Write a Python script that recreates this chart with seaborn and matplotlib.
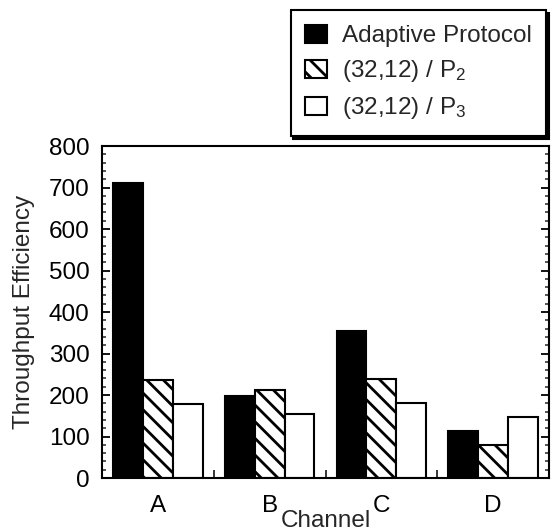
import pandas as pd
import seaborn as sns
import matplotlib.pyplot as plt
from matplotlib.ticker import MultipleLocator

channels = ['A', 'B', 'C', 'D']
adaptive = [712, 197, 355, 113]
p2 = [236, 211, 239, 80]
p3 = [178, 155, 181, 147]
series = ['Adaptive Protocol', '(32,12) / P$_2$', '(32,12) / P$_3$']

sns.set_style('ticks')
plt.rcParams['font.family'] = ['Liberation Sans', 'DejaVu Sans']
plt.rcParams['mathtext.fontset'] = 'custom'
plt.rcParams['mathtext.rm'] = 'Liberation Sans'
plt.rcParams['mathtext.default'] = 'regular'
plt.rcParams['hatch.linewidth'] = 2.0
plt.rcParams['hatch.color'] = 'black'

df = pd.DataFrame({
    'Channel': channels * 3,
    'value': adaptive + p2 + p3,
    'series': [s for s in series for _ in channels],
})

fig = plt.figure(figsize=(5.55, 5.32), dpi=100)
ax = fig.add_axes([0.184, 0.1015, 0.805, 0.624])
sns.barplot(data=df, x='Channel', y='value', hue='series',
            palette=['black', 'white', 'white'], saturation=1,
            edgecolor='black', linewidth=1.5, width=0.8,
            legend=False, ax=ax)

hatches = ['', '\\\\', '']
for cont, h in zip(ax.containers, hatches):
    for bar in cont:
        bar.set_hatch(h)

ax.set_xlim(-0.5, 3.5)
ax.set_ylim(0, 800)
ax.yaxis.set_major_locator(MultipleLocator(100))
ax.yaxis.set_minor_locator(MultipleLocator(20))
ax.set_xticks([0.5, 1.5, 2.5], minor=True)
ax.tick_params(axis='y', which='major', direction='in', right=True,
               length=6, width=1.3, labelsize=17.5, pad=9, colors='black')
ax.tick_params(axis='y', which='minor', direction='in', right=True,
               length=3, width=1.1)
ax.tick_params(axis='x', which='major', length=0, labelsize=17.5, pad=12.5,
               colors='black')
ax.tick_params(axis='x', which='minor', direction='in', length=6, width=1.3)
for sp in ax.spines.values():
    sp.set_visible(True)
    sp.set_linewidth(1.5)
    sp.set_color('black')

ax.set_xlabel('Channel', fontsize=17.5, labelpad=-5)
ax.set_ylabel('Throughput Efficiency', fontsize=17.5, labelpad=10)

leg = ax.legend(ax.containers, series, loc='upper right',
                bbox_to_anchor=(0.984, 0.981), bbox_transform=fig.transFigure,
                frameon=True, fancybox=False,
                shadow={'color': 'black', 'alpha': 1},
                edgecolor='black', framealpha=1, fontsize=17.5,
                handlelength=0.9, handleheight=0.8, handletextpad=0.6,
                labelspacing=0.45, borderpad=0.6, borderaxespad=0)
leg.get_frame().set_linewidth(1.5)

fig.savefig('out.png', dpi=100)
